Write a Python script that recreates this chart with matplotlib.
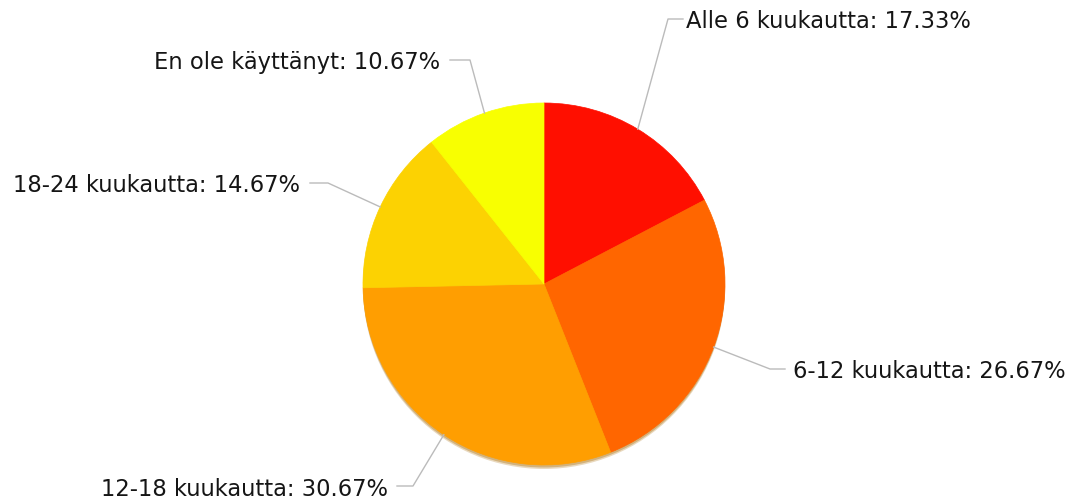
import numpy as np
import matplotlib
matplotlib.use("Agg")
import matplotlib.pyplot as plt
from matplotlib.patches import Wedge

# answer counts (n=75) -> 17.33%, 26.67%, 30.67%, 14.67%, 10.67%
categories = ["Alle 6 kuukautta", "6-12 kuukautta", "12-18 kuukautta",
              "18-24 kuukautta", "En ole käyttänyt"]
counts = [13, 20, 23, 11, 8]
colors = ["#FF0F00", "#FF6600", "#FF9E01", "#FCD202", "#F8FF01"]

W, H = 1075, 497
CX, CY, R = 544, H - 284, 181

# leader line: elbow point, end point (pixels from top) and text gap
elbows = [(668, 19), (770, 369), (413, 486), (328, 183), (470, 60)]
ends = [683, 785, 397, 310, 450]
gaps = [3, 8, 9, 10, 10]

fig = plt.figure(figsize=(W / 100, H / 100), dpi=100)
ax = fig.add_axes([0, 0, 1, 1])
ax.set_xlim(0, W)
ax.set_ylim(0, H)
ax.set_aspect("equal")
ax.axis("off")

total = sum(counts)
fracs = np.array(counts) / total

# soft shadow under the pie
for off, a in [(4, 0.25), (2.5, 0.35)]:
    ax.add_patch(plt.Circle((CX, CY - off), R, color="#a86a00", alpha=a, lw=0, zorder=1))

start = 0.0
for cat, f, c, (hx, hy), lx, g in zip(categories, fracs, colors, elbows, ends, gaps):
    # clockwise from 12 o'clock
    th1 = 90 - (start + f) * 360
    th2 = 90 - start * 360
    ax.add_patch(Wedge((CX, CY), R, th1, th2, facecolor=c, edgecolor=c, lw=0.5, zorder=2))
    mid = np.deg2rad(90 - (start + f / 2) * 360)
    ex, ey = CX + R * np.cos(mid), CY + R * np.sin(mid)
    ly = H - hy
    right = ex > CX
    ax.plot([ex, hx, lx], [ey, ly, ly], color="#bbbbbb", lw=1, zorder=3)
    ax.text(lx + (g if right else -g), ly - 3, f"{cat}: {f * 100:.2f}%",
            ha="left" if right else "right", va="center",
            fontsize=16.3, color="#151515", family="DejaVu Sans")
    start += f

fig.savefig("out.png", dpi=100, facecolor="white")
